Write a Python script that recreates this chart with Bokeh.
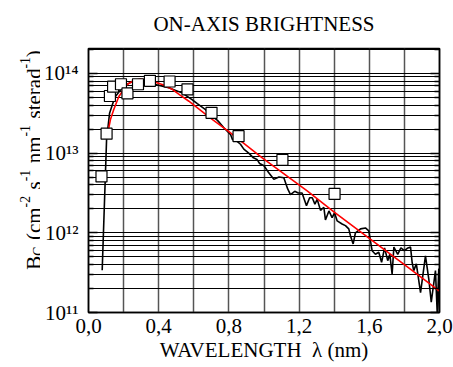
import math
from bokeh.plotting import figure
from bokeh.layouts import row
from bokeh.models import FixedTicker, CustomJSTickFormatter, LogAxis, Range1d, Title
from bokeh.core.properties import value
from bokeh.embed import file_html
from bokeh.resources import INLINE

# ---------------- data ----------------
spectrum_wavelength = [
    0.078, 0.103, 0.120, 0.150, 0.200, 0.250, 0.300, 0.350, 0.380, 0.457,
    0.533, 0.590, 0.620, 0.667, 0.700, 0.735, 0.770, 0.810, 0.820, 0.845,
    0.866, 0.885, 0.913, 0.940, 0.960, 0.975, 1.000, 1.025, 1.056, 1.085,
    1.113, 1.135, 1.151, 1.175, 1.195, 1.217, 1.242, 1.260, 1.275, 1.290,
    1.303, 1.322, 1.341, 1.350, 1.370, 1.388, 1.402, 1.417, 1.445, 1.464,
    1.483, 1.493, 1.508, 1.521, 1.550, 1.578, 1.597, 1.616, 1.635, 1.654,
    1.670, 1.687, 1.705, 1.717, 1.730, 1.740, 1.762, 1.780, 1.800, 1.820,
    1.835, 1.844, 1.853, 1.868, 1.892, 1.920, 1.939, 1.953, 1.977, 1.987,
    1.996, 2.000,
]
spectrum_brightness = [
    3.39e11, 1.48e13, 3.16e13, 5.01e13, 6.92e13, 7.94e13, 8.13e13, 7.76e13, 7.24e13, 6.61e13,
    5.69e13, 4.68e13, 4.17e13, 3.51e13, 2.95e13, 2.57e13, 2.09e13, 1.70e13, 1.48e13, 1.41e13,
    1.29e13, 1.12e13, 1.00e13, 8.71e12, 8.32e12, 7.41e12, 6.92e12, 5.75e12, 4.68e12, 5.01e12,
    4.90e12, 3.55e12, 3.02e12, 3.31e12, 3.16e12, 3.16e12, 2.19e12, 2.75e12, 2.75e12, 2.29e12,
    2.63e12, 1.91e12, 2.09e12, 1.45e12, 1.88e12, 1.55e12, 1.78e12, 1.41e12, 1.29e12, 1.23e12,
    1.12e12, 9.12e11, 7.24e11, 1.00e12, 1.12e12, 1.15e12, 1.06e12, 5.96e11, 5.37e11, 5.69e11,
    4.27e11, 6.46e11, 4.47e11, 5.37e11, 3.02e11, 6.61e11, 5.37e11, 6.46e11, 5.96e11, 6.46e11,
    6.61e11, 4.27e11, 3.35e11, 4.07e11, 1.78e11, 5.13e11, 2.63e11, 1.35e11, 3.35e11, 9.80e10,
    3.55e11, 7.90e10,
]
fit_wavelength = [0.112, 0.125, 0.144, 0.173, 0.220, 0.260, 0.296, 0.363, 0.420, 0.477,
                  0.520, 0.572, 0.695, 0.800, 0.990, 1.246, 1.400, 1.600, 1.800, 2.000]
fit_brightness = [1.88e13, 2.63e13, 3.52e13, 5.13e13, 7.24e13, 8.13e13, 8.51e13, 7.94e13, 7.24e13, 6.31e13,
                  5.37e13, 4.47e13, 2.75e13, 1.86e13, 8.71e12, 3.35e12, 1.82e12, 8.51e11, 3.98e11, 1.86e11]
measured_wavelength = [0.074, 0.103, 0.122, 0.140, 0.185, 0.222, 0.282, 0.350, 0.462, 0.564,
                       0.701, 0.855, 1.105, 1.402]
measured_brightness = [5.1e12, 1.75e13, 5.2e13, 6.8e13, 7.3e13, 5.6e13, 7.3e13, 8.06e13, 7.9e13, 6.3e13,
                       3.2e13, 1.63e13, 8.2e12, 3.07e12]

x_tick_values = [0.0, 0.4, 0.8, 1.2, 1.6, 2.0]
x_minor_values = [0.2, 0.6, 1.0, 1.4, 1.8]
y_tick_values = [1e11, 1e12, 1e13, 1e14]
y_tick_labels = ["10¹¹", "10¹²", "10¹³", "10¹⁴"]
title_text = "ON-AXIS BRIGHTNESS"
x_label_text = "WAVELENGTH \u00a0λ (nm)"
# y label pieces: (text, relative size, baseline shift in em, leading gap in em)
y_label_pieces = [("B", 1, 0, 0), ("C", 0.65, -0.25, 0), ("(cm", 1, 0, 0.32), ("-2", 0.65, 0.42, 0),
                  ("s", 1, 0, 0.32), ("-1", 0.65, 0.42, 0), ("nm", 1, 0, 0.32), ("-1", 0.65, 0.42, 0),
                  ("sterad", 1, 0, 0.32), ("-1", 0.65, 0.42, 0), (")", 1, 0, 0)]

FONT = "Liberation Serif"
FS = 21
W, H = 453, 367
LABEL_W = 40
TOP, BOTTOM = 47, 55

y_minor = [m * 10 ** e for e in (11, 12, 13, 14) for m in range(2, 10)]

p = figure(width=W - LABEL_W, height=H, x_range=Range1d(0, 2), y_range=Range1d(1e11, 2.05e14),
           y_axis_type="log", output_backend="svg", toolbar_location=None,
           min_border_left=88 - LABEL_W, min_border_right=14, min_border_top=TOP,
           min_border_bottom=BOTTOM)
p.background_fill_color = "white"
p.border_fill_color = "white"
p.outline_line_color = "black"
p.outline_line_width = 1.5

p.add_layout(Title(text=title_text, align="center", vertical_align="top", text_font=FONT,
                   text_font_size=f"{FS}px", text_font_style="normal", text_color="black",
                   standoff=22), "above")

xt = FixedTicker(ticks=x_tick_values, minor_ticks=x_minor_values)
yt = FixedTicker(ticks=y_tick_values, minor_ticks=y_minor)

xa = p.xaxis[0]
xa.ticker = xt
xa.formatter = CustomJSTickFormatter(code="return tick.toFixed(1).replace('.', ',');")
xa.major_tick_in = 0
xa.major_tick_out = 0
xa.minor_tick_in = 0
xa.minor_tick_out = 0
xa.axis_line_color = "black"
xa.axis_line_width = 1.5
xa.major_label_text_font = FONT
xa.major_label_text_font_size = f"{FS}px"
xa.major_label_text_color = "black"
xa.major_label_standoff = 6
xa.axis_label = x_label_text
xa.axis_label_text_font = FONT
xa.axis_label_text_font_size = f"{FS}px"
xa.axis_label_text_font_style = "normal"
xa.axis_label_text_color = "black"
xa.axis_label_standoff = 2

ya = p.yaxis[0]
ya.ticker = yt
ya.major_label_overrides = dict(zip(y_tick_values, y_tick_labels))
ya.major_tick_in = 9
ya.major_tick_out = 0
ya.minor_tick_in = 5
ya.minor_tick_out = 0
ya.axis_line_color = "black"
ya.axis_line_width = 1.5
ya.major_tick_line_width = 1.5
ya.minor_tick_line_width = 1.5
ya.major_label_text_font = FONT
ya.major_label_text_font_size = f"{FS}px"
ya.major_label_text_color = "black"
ya.major_label_standoff = 10

ra = LogAxis(ticker=yt, major_label_text_font_size="2px", major_label_text_alpha=0,
             major_tick_in=9, major_tick_out=0, minor_tick_in=5, minor_tick_out=0,
             axis_line_width=1.5, major_tick_line_width=1.5, minor_tick_line_width=1.5,
             major_label_standoff=0)
p.add_layout(ra, "right")

p.xgrid.ticker = xt
p.xgrid.grid_line_color = "#555555"
p.xgrid.grid_line_width = 1.5
p.xgrid.minor_grid_line_color = "#555555"
p.xgrid.minor_grid_line_width = 1.5
p.ygrid.ticker = yt
p.ygrid.grid_line_color = "black"
p.ygrid.grid_line_width = 1
p.ygrid.minor_grid_line_color = "black"
p.ygrid.minor_grid_line_width = 1

p.line(spectrum_wavelength, spectrum_brightness, line_color="black", line_width=1.6)
p.line(fit_wavelength, fit_brightness, line_color="red", line_width=1.6)
p.scatter(measured_wavelength, measured_brightness, marker="square", size=11,
          fill_color="white", line_color="black", line_width=1.2)

# ---- narrow strip holding the rotated, composed y-axis label ----
# its frame is aligned with the main frame (rows align frames), so use the
# same top/bottom borders and express y as pixels from the canvas bottom
lab = figure(width=LABEL_W, height=H, x_range=Range1d(0, LABEL_W),
             y_range=Range1d(BOTTOM, H - TOP),
             output_backend="svg", toolbar_location=None, x_axis_location=None,
             y_axis_location=None, min_border_left=0, min_border_right=0,
             min_border_top=TOP, min_border_bottom=BOTTOM)
lab.outline_line_color = None
lab.xgrid.visible = False
lab.ygrid.visible = False
lab.background_fill_color = "white"
lab.border_fill_color = "white"

metrics = {'B': .667, 'C': .667, '(': .333, ')': .333, 'c': .444, 'm': .778, '-': .333,
           '2': .5, '1': .5, 's': .389, 'n': .5, 't': .278, 'e': .444, 'r': .333,
           'a': .444, 'd': .5}
base_x = 33
pos = H - 269
for txt, rel, shift, gap in y_label_pieces:
    pos += gap * FS
    lab.text(x=[base_x - shift * FS], y=[pos], text=[txt], angle=math.pi / 2,
             text_align="left", text_baseline="alphabetic", text_font=value(FONT),
             text_font_size=f"{FS * rel:.1f}px", text_color="black")
    pos += sum(metrics.get(ch, 0.5) for ch in txt) * FS * rel

layout = row(lab, p)
open("out.html", "w").write(file_html(layout, INLINE))
